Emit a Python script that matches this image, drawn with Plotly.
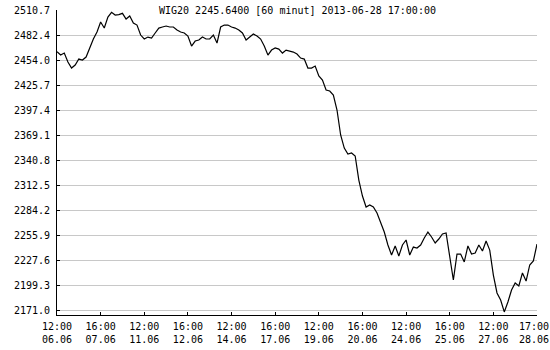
import plotly.graph_objects as go

# Hourly closes of WIG20 (index of hourly bars, 8 bars per session)
values = [
    2463.5, 2459.8, 2462.0, 2451.8, 2445.0, 2448.4, 2455.2, 2454.1, 2457.5, 2467.7,
    2477.9, 2485.8, 2497.1, 2490.3, 2502.8, 2508.1, 2505.0, 2505.6, 2507.0, 2500.5,
    2503.9, 2496.0, 2493.7, 2482.4, 2477.9, 2480.1, 2479.0, 2484.7, 2490.3, 2491.5,
    2492.6, 2491.5, 2491.5, 2488.1, 2485.8, 2484.7, 2481.3, 2469.9, 2475.6, 2476.7,
    2480.1, 2477.9, 2477.9, 2482.4, 2473.3, 2491.5, 2493.7, 2493.7, 2491.5, 2490.3,
    2488.1, 2484.7, 2476.7, 2480.1, 2483.5, 2481.3, 2477.9, 2469.9, 2459.7, 2465.4,
    2467.7, 2466.5, 2462.0, 2465.4, 2464.3, 2463.1, 2460.9, 2456.3, 2455.2, 2445.0,
    2445.0, 2447.3, 2436.0, 2431.4, 2420.1, 2419.0, 2414.5, 2397.5, 2369.2, 2354.4,
    2347.6, 2348.8, 2345.4, 2318.2, 2300.1, 2287.6, 2289.9, 2287.6, 2280.8, 2270.7,
    2259.3, 2244.6, 2233.3, 2243.5, 2232.2, 2244.6, 2250.3, 2233.3, 2242.3, 2241.2,
    2244.6, 2252.5, 2259.3, 2253.7, 2246.9, 2251.4, 2257.1, 2258.2, 2233.3, 2205.0,
    2234.4, 2234.4, 2225.4, 2243.5, 2234.4, 2235.6, 2244.6, 2237.8, 2249.1, 2238.9,
    2210.6, 2190.3, 2182.3, 2168.8, 2180.1, 2193.7, 2201.6, 2198.2, 2212.9, 2203.8,
    2222.0, 2226.5, 2245.64,
]
bar_index = list(range(len(values)))

tick_times = ["12:00", "16:00", "12:00", "16:00", "12:00", "16:00",
              "12:00", "16:00", "12:00", "16:00", "12:00", "17:00"]
tick_dates = ["06.06", "07.06", "11.06", "12.06", "14.06", "17.06",
              "19.06", "20.06", "24.06", "25.06", "27.06", "28.06"]
tick_bars = [0, 12, 24, 36, 48, 60, 72, 84, 96, 108, 120, 132]

y_ticks = [2171.0, 2199.3, 2227.6, 2255.9, 2284.2, 2312.5, 2340.8,
           2369.1, 2397.4, 2425.7, 2454.0, 2482.4, 2510.7]

title_text = "WIG20 2245.6400 [60 minut] 2013-06-28 17:00:00"

FONT = "DejaVu Sans Mono"

tick_labels = [f"{t}<br>{d}" for t, d in zip(tick_times, tick_dates)]
# the last label sits at the right edge of the page, so it is drawn right-aligned
last_label = tick_labels[-1]
tick_labels[-1] = ""

fig = go.Figure()
fig.add_trace(go.Scatter(
    x=bar_index, y=values, mode="lines",
    line=dict(color="black", width=1.2, shape="linear"),
    hoverinfo="skip", showlegend=False,
))

fig.update_layout(
    width=550, height=350,
    margin=dict(l=57, r=13, t=10, b=35, autoexpand=False),
    paper_bgcolor="white", plot_bgcolor="white",
    font=dict(family=FONT, size=10, color="black"),
    xaxis=dict(
        range=[0, 132],
        tickmode="array",
        tickvals=tick_bars,
        ticktext=tick_labels,
        showgrid=False, zeroline=False,
        showline=True, linecolor="black", linewidth=1,
        ticks="inside", ticklen=3, tickcolor="black",
        ticklabeloverflow="allow",
        ticklabelstandoff=2,
        automargin=False,
        tickfont=dict(family=FONT, size=10, color="black"),
    ),
    yaxis=dict(
        range=[2165.35, 2510.75],
        tickmode="array",
        tickvals=y_ticks,
        ticktext=[f"{v:.1f}" for v in y_ticks],
        showgrid=True, gridcolor="#c8c8c8", gridwidth=1,
        zeroline=False,
        showline=True, linecolor="black", linewidth=1,
        ticks="inside", ticklen=3, tickcolor="black",
        ticklabelstandoff=4,
        automargin=False,
        tickfont=dict(family=FONT, size=10, color="black"),
    ),
    annotations=[
        dict(
            text=title_text, xref="paper", yref="paper",
            x=0.5, y=1.0, xanchor="center", yanchor="middle",
            showarrow=False, font=dict(family=FONT, size=10, color="black"),
        ),
        dict(
            text=last_label, xref="x", yref="paper",
            x=tick_bars[-1], y=0, xanchor="right", yanchor="top",
            xshift=14, yshift=-4, align="right",
            showarrow=False, font=dict(family=FONT, size=10, color="black"),
        ),
    ],
)

fig.write_html("out.html")
